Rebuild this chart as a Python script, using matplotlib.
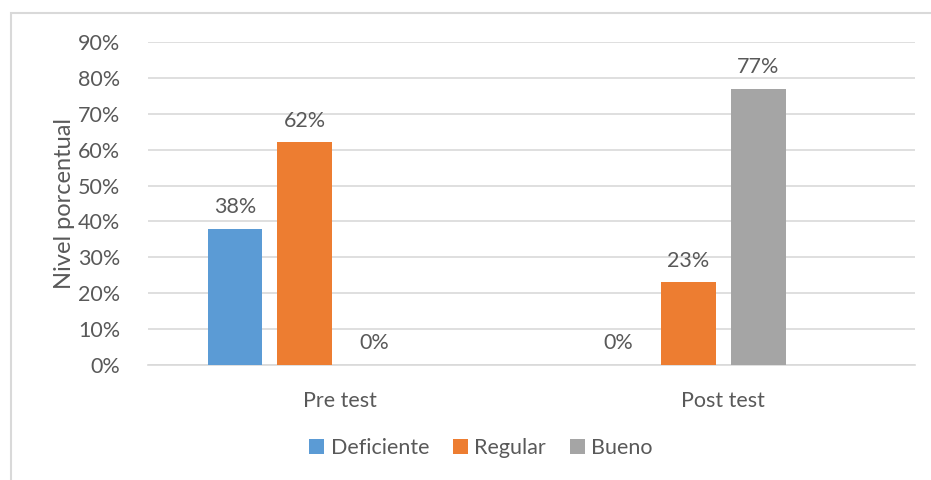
import matplotlib.pyplot as plt
import numpy as np
from matplotlib.patches import Rectangle
from matplotlib.ticker import PercentFormatter

categories = ["Pre test", "Post test"]
series = ["Deficiente", "Regular", "Bueno"]
deficiente = [38, 0]
regular = [62, 23]
bueno = [0, 77]
colors = ["#5B9BD5", "#ED7D31", "#A5A5A5"]
text_color = "#595959"

plt.rcParams["font.family"] = ["Lato", "DejaVu Sans"]

fig = plt.figure(figsize=(9.31, 4.8), dpi=100)
ax = fig.add_axes([148 / 931, 1 - 365 / 480, (915 - 148) / 931, (365 - 42) / 480])

# chart border (right and bottom run off the image)
fig.patches.append(Rectangle((11 / 931, -0.05), 1.0, 1 - 13 / 480 + 0.05,
                             transform=fig.transFigure, fill=False,
                             edgecolor="#D9D9D9", linewidth=1.5))

x = np.arange(len(categories))
step = 0.182
width = 0.143
# Excel reserved four slots per category; only three series hold data
for i, (name, vals) in enumerate(zip(series, [deficiente, regular, bueno])):
    pos = x + (i - 1.5) * step
    ax.bar(pos, vals, width, color=colors[i], label=name, zorder=3)
    for p, v in zip(pos, vals):
        ax.text(p, v + 3.3, f"{v}%", ha="center", va="bottom",
                fontsize=15.5, color=text_color)

ax.set_xlim(-0.5, 1.5)
ax.set_ylim(0, 90)
ax.set_yticks(np.arange(0, 91, 10))
ax.yaxis.set_major_formatter(PercentFormatter(decimals=0))
ax.set_xticks(x, categories)
ax.grid(axis="y", color="#D9D9D9", linewidth=1.2, zorder=0)
for s in ["top", "right", "left"]:
    ax.spines[s].set_visible(False)
ax.spines["bottom"].set_color("#D9D9D9")
ax.spines["bottom"].set_linewidth(1.2)
ax.tick_params(axis="both", length=0, labelsize=15.5, colors=text_color)
ax.tick_params(axis="y", pad=20)
ax.tick_params(axis="x", pad=19)
ax.set_ylabel("Nivel porcentual", fontsize=17, color=text_color, labelpad=2)

fig.legend(loc="center", bbox_to_anchor=(481 / 931, 1 - 448 / 480), ncol=3,
           frameon=False, fontsize=15.5, labelcolor=text_color,
           handlelength=0.7, handleheight=0.7, handletextpad=0.3,
           columnspacing=1.1)

plt.savefig("out.png", dpi=100)
